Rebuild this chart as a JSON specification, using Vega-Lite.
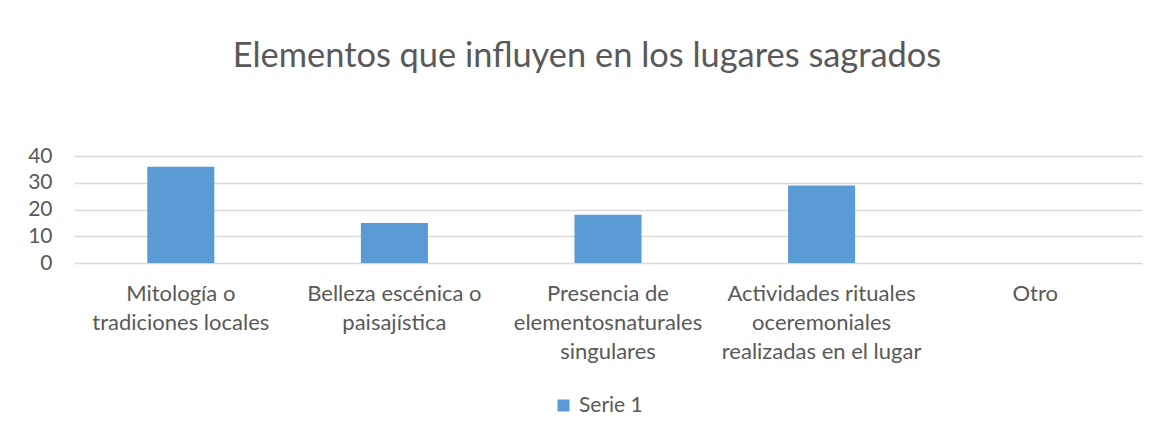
{
  "$schema": "https://vega.github.io/schema/vega-lite/v6.json",
  "autosize": {"type": "none"},
  "width": 1068,
  "height": 107,
  "padding": {"left": 74, "top": 156, "right": 17, "bottom": 172},
  "background": "white",
  "title": {
    "text": "Elementos que influyen en los lugares sagrados",
    "font": "Lato",
    "fontSize": 34.4,
    "fontWeight": "normal",
    "color": "#595959",
    "anchor": "middle",
    "offset": 71,
    "dx": -21
  },
  "data": {
    "values": [
      {"categoria": "Mitología o|tradiciones locales", "valor": 36, "serie": "Serie 1"},
      {"categoria": "Belleza escénica o|paisajística", "valor": 15, "serie": "Serie 1"},
      {"categoria": "Presencia de|elementosnaturales|singulares", "valor": 18, "serie": "Serie 1"},
      {"categoria": "Actividades rituales|oceremoniales|realizadas en el lugar", "valor": 29, "serie": "Serie 1"},
      {"categoria": "Otro", "valor": 0, "serie": "Serie 1"}
    ]
  },
  "mark": {"type": "bar"},
  "encoding": {
    "x": {
      "field": "categoria",
      "type": "nominal",
      "sort": null,
      "title": null,
      "scale": {"paddingInner": 0.686, "paddingOuter": 0.343},
      "axis": {
        "labelExpr": "split(datum.label, '|')",
        "labelAngle": 0,
        "labelFont": "Lato",
        "labelFontSize": 22,
        "labelColor": "#595959",
        "labelLineHeight": 29,
        "labelBaseline": "top",
        "labelPadding": 20,
        "ticks": false,
        "tickSize": 0,
        "domain": false,
        "grid": false,
        "labelLimit": 0
      }
    },
    "y": {
      "field": "valor",
      "type": "quantitative",
      "title": null,
      "scale": {"domain": [0, 40]},
      "axis": {
        "values": [0, 10, 20, 30, 40],
        "labelFont": "Lato",
        "labelFontSize": 21,
        "labelColor": "#595959",
        "labelPadding": 22,
        "ticks": false,
        "tickSize": 0,
        "domain": false,
        "gridColor": "#d9d9d9",
        "gridWidth": 1.3
      }
    },
    "color": {
      "field": "serie",
      "type": "nominal",
      "scale": {"range": ["#5b9bd5"]},
      "legend": {
        "title": null,
        "orient": "none",
        "legendX": 479,
        "legendY": 239,
        "direction": "horizontal",
        "symbolType": "square",
        "symbolSize": 144,
        "symbolStrokeWidth": 0,
        "labelFont": "Lato",
        "labelFontSize": 21,
        "labelColor": "#595959",
        "labelOffset": 5
      }
    }
  },
  "config": {
    "view": {"stroke": null}
  }
}
